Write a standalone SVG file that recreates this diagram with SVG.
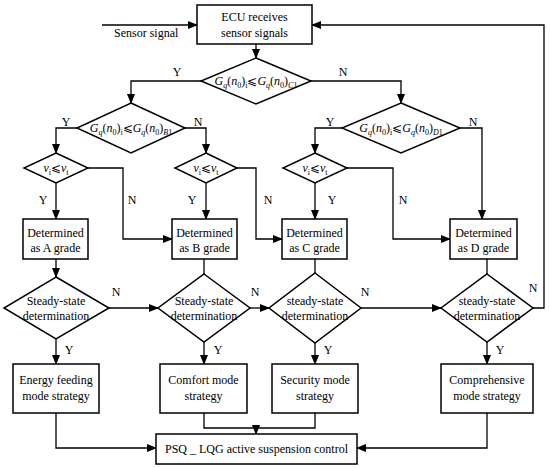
<svg xmlns="http://www.w3.org/2000/svg" width="550" height="468" viewBox="0 0 550 468">
<style>
  .box { fill: #fff; stroke: #000; stroke-width: 1.5; }
  .ln { fill: none; stroke: #000; stroke-width: 1.3; }
  .arr { fill: none; stroke: #000; stroke-width: 1.3; marker-end: url(#ah); }
  text { font-family: "Liberation Serif", "Times New Roman", "DejaVu Serif", serif; font-size: 12px; fill: #000; }
  .c { text-anchor: middle; }
  .i { font-style: italic; }
  .s { font-size: 8px; }
</style>
<defs>
  <marker id="ah" markerWidth="10" markerHeight="8" refX="9" refY="4" orient="auto" markerUnits="userSpaceOnUse">
    <path d="M0,0 L10,4 L0,8 Z" fill="#000"/>
  </marker>
</defs>
<rect width="550" height="468" fill="#fff"/>

<g id="connectors">
  <line class="arr" x1="102" y1="25" x2="197" y2="25"/>
  <polyline class="arr" points="533,308 544,308 544,25 312,25"/>
  <line class="arr" x1="256" y1="44" x2="256" y2="58"/>
  <polyline class="arr" points="201,81 131,81 131,103"/>
  <polyline class="arr" points="311,81 401,81 401,103"/>
  <polyline class="arr" points="77,128 56,128 56,153"/>
  <polyline class="arr" points="185,128 206,128 206,153"/>
  <polyline class="arr" points="342,128 315,128 315,153"/>
  <polyline class="arr" points="460,128 482,128 482,219"/>
  <line class="arr" x1="56" y1="183" x2="56" y2="219"/>
  <line class="arr" x1="206" y1="183" x2="206" y2="219"/>
  <line class="arr" x1="315" y1="183" x2="315" y2="219"/>
  <polyline class="arr" points="88,168 123,168 123,239 172,239"/>
  <polyline class="arr" points="237,168 256,168 256,239 282,239"/>
  <polyline class="arr" points="347,168 393,168 393,239 450,239"/>
  <line class="arr" x1="56" y1="259" x2="56" y2="277"/>
  <line class="ln" x1="204" y1="259" x2="204" y2="274"/>
  <line class="ln" x1="315" y1="259" x2="315" y2="274"/>
  <line class="ln" x1="487" y1="259" x2="487" y2="274"/>
  <line class="arr" x1="109" y1="308" x2="158" y2="308"/>
  <line class="arr" x1="250" y1="308" x2="269" y2="308"/>
  <line class="arr" x1="361" y1="308" x2="441" y2="308"/>
  <line class="arr" x1="56" y1="339" x2="56" y2="364"/>
  <line class="arr" x1="204" y1="342" x2="204" y2="364"/>
  <line class="arr" x1="315" y1="343" x2="315" y2="364"/>
  <line class="arr" x1="487" y1="342" x2="487" y2="364"/>
  <polyline class="arr" points="56,413 56,448 156,448"/>
  <polyline class="arr" points="487,413 487,448 357,448"/>
  <polyline class="ln" points="204,413 204,428 315,428 315,413"/>
  <line class="arr" x1="256" y1="428" x2="256" y2="434"/>
</g>

<g id="labels">
  <text x="114" y="37">Sensor signal</text>
  <text class="c" x="177" y="76">Y</text>
  <text class="c" x="343" y="76">N</text>
  <text class="c" x="66" y="126">Y</text>
  <text class="c" x="198" y="126">N</text>
  <text class="c" x="330" y="126">Y</text>
  <text class="c" x="473" y="126">N</text>
  <text class="c" x="43" y="204">Y</text>
  <text class="c" x="132" y="204">N</text>
  <text class="c" x="192" y="204">Y</text>
  <text class="c" x="268" y="204">N</text>
  <text class="c" x="332" y="204">Y</text>
  <text class="c" x="403" y="204">N</text>
  <text class="c" x="116" y="296">N</text>
  <text class="c" x="255" y="296">N</text>
  <text class="c" x="365" y="296">N</text>
  <text class="c" x="533" y="292">N</text>
  <text class="c" x="69" y="354">Y</text>
  <text class="c" x="218" y="354">Y</text>
  <text class="c" x="328" y="354">Y</text>
  <text class="c" x="500" y="354">Y</text>
</g>

<g id="ecu">
  <rect class="box" x="197" y="5" width="115" height="39"/>
  <text class="c" x="254.5" y="21">ECU receives</text>
  <text class="c" x="254.5" y="37">sensor signals</text>
</g>

<g id="cond-c1">
  <polygon class="box" points="256,58 311,81 256,104 201,81"/>
  <text class="c" x="256" y="85"><tspan class="i">G</tspan><tspan class="i s" dy="3">q</tspan><tspan dy="-3">(</tspan><tspan class="i">n</tspan><tspan class="s" dy="3">0</tspan><tspan dy="-3">)</tspan><tspan class="s" dy="3">i</tspan><tspan dy="-3">⩽</tspan><tspan class="i">G</tspan><tspan class="i s" dy="3">q</tspan><tspan dy="-3">(</tspan><tspan class="i">n</tspan><tspan class="s" dy="3">0</tspan><tspan dy="-3">)</tspan><tspan class="i s" dy="3">C</tspan><tspan class="s">1</tspan></text>
</g>

<g id="cond-b1">
  <polygon class="box" points="131,103 185,128 131,153 77,128"/>
  <text class="c" x="131" y="132"><tspan class="i">G</tspan><tspan class="i s" dy="3">q</tspan><tspan dy="-3">(</tspan><tspan class="i">n</tspan><tspan class="s" dy="3">0</tspan><tspan dy="-3">)</tspan><tspan class="s" dy="3">i</tspan><tspan dy="-3">⩽</tspan><tspan class="i">G</tspan><tspan class="i s" dy="3">q</tspan><tspan dy="-3">(</tspan><tspan class="i">n</tspan><tspan class="s" dy="3">0</tspan><tspan dy="-3">)</tspan><tspan class="i s" dy="3">B</tspan><tspan class="s">1</tspan></text>
</g>

<g id="cond-d1">
  <polygon class="box" points="401,103 460,128 401,153 342,128"/>
  <text class="c" x="401" y="132"><tspan class="i">G</tspan><tspan class="i s" dy="3">q</tspan><tspan dy="-3">(</tspan><tspan class="i">n</tspan><tspan class="s" dy="3">0</tspan><tspan dy="-3">)</tspan><tspan class="s" dy="3">i</tspan><tspan dy="-3">⩽</tspan><tspan class="i">G</tspan><tspan class="i s" dy="3">q</tspan><tspan dy="-3">(</tspan><tspan class="i">n</tspan><tspan class="s" dy="3">0</tspan><tspan dy="-3">)</tspan><tspan class="i s" dy="3">D</tspan><tspan class="s">1</tspan></text>
</g>

<g id="speed-1">
  <polygon class="box" points="56,153 88,168 56,183 24,168"/>
  <text class="c" x="56" y="172"><tspan class="i">v</tspan><tspan class="s" dy="3">i</tspan><tspan dy="-3">⩽</tspan><tspan class="i">v</tspan><tspan class="s" dy="3">t</tspan></text>
</g>
<g id="speed-2">
  <polygon class="box" points="206,153 237,168 206,183 175,168"/>
  <text class="c" x="206" y="172"><tspan class="i">v</tspan><tspan class="s" dy="3">i</tspan><tspan dy="-3">⩽</tspan><tspan class="i">v</tspan><tspan class="s" dy="3">t</tspan></text>
</g>
<g id="speed-3">
  <polygon class="box" points="315,153 347,168 315,183 283,168"/>
  <text class="c" x="315" y="172"><tspan class="i">v</tspan><tspan class="s" dy="3">i</tspan><tspan dy="-3">⩽</tspan><tspan class="i">v</tspan><tspan class="s" dy="3">t</tspan></text>
</g>

<g id="grade-a">
  <rect class="box" x="23" y="219" width="65" height="40"/>
  <text class="c" x="55.5" y="237">Determined</text>
  <text class="c" x="55.5" y="252">as A grade</text>
</g>
<g id="grade-b">
  <rect class="box" x="172" y="219" width="65" height="40"/>
  <text class="c" x="204.5" y="237">Determined</text>
  <text class="c" x="204.5" y="252">as B grade</text>
</g>
<g id="grade-c">
  <rect class="box" x="282" y="219" width="65" height="40"/>
  <text class="c" x="314.5" y="237">Determined</text>
  <text class="c" x="314.5" y="252">as C grade</text>
</g>
<g id="grade-d">
  <rect class="box" x="450" y="219" width="67" height="40"/>
  <text class="c" x="483.5" y="237">Determined</text>
  <text class="c" x="483.5" y="252">as D grade</text>
</g>

<g id="steady-a">
  <polygon class="box" points="56,277 109,308 56,339 4,308"/>
  <text class="c" x="56" y="305">Steady-state</text>
  <text class="c" x="56" y="320">determination</text>
</g>
<g id="steady-b">
  <polygon class="box" points="204,274 250,308 204,342 158,308"/>
  <text class="c" x="204" y="305">Steady-state</text>
  <text class="c" x="204" y="320">determination</text>
</g>
<g id="steady-c">
  <polygon class="box" points="315,273 361,308 315,343 269,308"/>
  <text class="c" x="315" y="305">steady-state</text>
  <text class="c" x="315" y="320">determination</text>
</g>
<g id="steady-d">
  <polygon class="box" points="487,274 533,308 487,342 441,308"/>
  <text class="c" x="487" y="305">steady-state</text>
  <text class="c" x="487" y="320">determination</text>
</g>

<g id="energy">
  <rect class="box" x="13" y="364" width="86" height="49"/>
  <text class="c" x="56" y="384">Energy feeding</text>
  <text class="c" x="56" y="400">mode strategy</text>
</g>
<g id="comfort">
  <rect class="box" x="160" y="364" width="87" height="49"/>
  <text class="c" x="203.5" y="384">Comfort mode</text>
  <text class="c" x="203.5" y="400">strategy</text>
</g>
<g id="security">
  <rect class="box" x="272" y="364" width="86" height="49"/>
  <text class="c" x="315" y="384">Security mode</text>
  <text class="c" x="315" y="400">strategy</text>
</g>
<g id="comprehensive">
  <rect class="box" x="441" y="364" width="92" height="49"/>
  <text class="c" x="487" y="384">Comprehensive</text>
  <text class="c" x="487" y="400">mode strategy</text>
</g>

<g id="psq">
  <rect class="box" x="156" y="434" width="201" height="30"/>
  <text class="c" x="256.5" y="453">PSQ _ LQG active suspension control</text>
</g>
</svg>
